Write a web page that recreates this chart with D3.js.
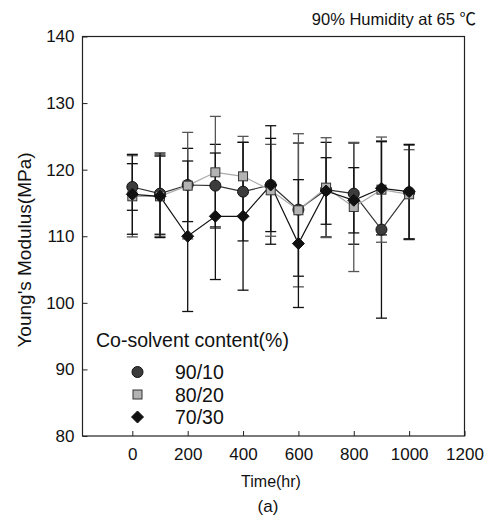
<!DOCTYPE html>
<html><head><meta charset="utf-8">
<script src="https://cdn.jsdelivr.net/npm/d3@7"></script>
<style>body{margin:0;background:#fff}svg{display:block}text{font-family:"Liberation Sans",Arial,sans-serif;fill:#111}</style>
</head><body><svg id="c" width="495" height="525"></svg>
<script>
const times = [0,100,200,300,400,500,600,700,800,900,1000];
const s90 = [117.4,116.4,117.7,117.6,116.7,117.7,114.0,117.0,116.4,111.0,116.6];
const e90 = [3.5,6.1,5.5,6.2,7.4,8.9,10.0,7.1,7.6,13.3,7.1];
const s80 = [116.0,116.0,117.6,119.6,119.0,116.9,113.9,117.3,114.4,117.0,116.3];
const e80 = [6.1,6.0,8.0,8.4,6.0,6.9,11.5,7.5,9.7,7.9,6.7];
const s70 = [116.3,116.0,110.0,113.0,113.0,117.7,108.9,116.8,115.4,117.2,116.7];
const e70 = [6.0,6.2,11.3,9.5,11.1,7.0,9.6,5.0,4.9,7.0,7.1];
const seriesNames = ["90/10","80/20","70/30"];
const xTicks = [0,200,400,600,800,1000,1200];
const yTicks = [80,90,100,110,120,130,140];

const svg = d3.select("#c");
const L=82.5,R=464.5,T=36.5,B=436;
const x = d3.scaleLinear().domain([-180,1200]).range([L,R]);
const y = d3.scaleLinear().domain([80,140]).range([B,T]);

const series = [
 {name:seriesNames[0], v:s90, e:e90, line:"#333", ebar:"#111", shape:"circle", fill:"#3c3c3c"},
 {name:seriesNames[1], v:s80, e:e80, line:"#aaa", ebar:"#555", shape:"square", fill:"#b3b3b3"},
 {name:seriesNames[2], v:s70, e:e70, line:"#111", ebar:"#111", shape:"diamond", fill:"#111"}
];

svg.append("rect").attr("x",L).attr("y",T).attr("width",R-L).attr("height",B-T)
  .attr("fill","none").attr("stroke","#222").attr("stroke-width",1.2);

const xAx = svg.append("g").attr("transform",`translate(0,${B})`)
  .call(d3.axisBottom(x).tickValues(xTicks).tickFormat(d3.format("d")).tickSizeInner(-5).tickSizeOuter(0).tickPadding(12));
xAx.select(".domain").remove();
xAx.selectAll("line").attr("stroke","#222");
xAx.selectAll("text").attr("font-size",17).attr("font-family","Liberation Sans, Arial").attr("fill","#111");

const yAx = svg.append("g").attr("transform",`translate(${L},0)`)
  .call(d3.axisLeft(y).tickValues(yTicks).tickFormat(d3.format("d")).tickSizeInner(-5).tickSizeOuter(0).tickPadding(8));
yAx.select(".domain").remove();
yAx.selectAll("line").attr("stroke","#222");
yAx.selectAll("text").attr("font-size",17).attr("font-family","Liberation Sans, Arial").attr("fill","#111");

series.forEach(s=>{
  const g = svg.append("g").attr("stroke",s.ebar).attr("stroke-width",1.3);
  times.forEach((t,i)=>{
    const cx=x(t), y1=y(s.v[i]+s.e[i]), y2=y(s.v[i]-s.e[i]);
    g.append("line").attr("x1",cx).attr("x2",cx).attr("y1",y1).attr("y2",y2);
    g.append("line").attr("x1",cx-5.5).attr("x2",cx+5.5).attr("y1",y1).attr("y2",y1);
    g.append("line").attr("x1",cx-5.5).attr("x2",cx+5.5).attr("y1",y2).attr("y2",y2);
  });
});

const lineGen = d3.line().x((d,i)=>x(times[i])).y(d=>y(d));
series.forEach(s=>{
  svg.append("path").attr("d",lineGen(s.v)).attr("fill","none").attr("stroke",s.line).attr("stroke-width",1.2);
});

function marker(g, shape, cx, cy, fill){
  if(shape==="circle") g.append("circle").attr("cx",cx).attr("cy",cy).attr("r",5.5).attr("fill",fill).attr("stroke","#111").attr("stroke-width",1);
  else if(shape==="square") g.append("rect").attr("x",cx-4.5).attr("y",cy-4.5).attr("width",9).attr("height",9).attr("fill",fill).attr("stroke","#333").attr("stroke-width",1);
  else g.append("path").attr("d",`M${cx},${cy-6}L${cx+6},${cy}L${cx},${cy+6}L${cx-6},${cy}Z`).attr("fill",fill).attr("stroke","#111").attr("stroke-width",1);
}
series.forEach(s=>{
  const g=svg.append("g");
  times.forEach((t,i)=>marker(g,s.shape,x(t),y(s.v[i]),s.fill));
});

svg.append("text").attr("x",96).attr("y",347).attr("font-size",19.5).text("Co-solvent content(%)");
series.forEach((s,i)=>{
  const ly=372+i*22.5;
  marker(svg,s.shape,137.5,ly,s.fill);
  svg.append("text").attr("x",175).attr("y",ly+7).attr("font-size",19.5).text(s.name);
});

const tt = svg.append("text").attr("x",476).attr("y",25).attr("text-anchor","end").attr("font-size",16.5);
tt.append("tspan").text("90% Humidity at 65 ");
tt.append("tspan").attr("font-family","Noto Sans CJK SC").text("℃");
svg.append("text").attr("x",271).attr("y",487).attr("text-anchor","middle").attr("font-size",16).text("Time(hr)");
svg.append("text").attr("x",268).attr("y",512).attr("text-anchor","middle").attr("font-size",17).text("(a)");
svg.append("text").attr("transform",`translate(31,250) rotate(-90)`).attr("text-anchor","middle").attr("font-size",19).text("Young's Modulus(MPa)");
</script></body></html>
